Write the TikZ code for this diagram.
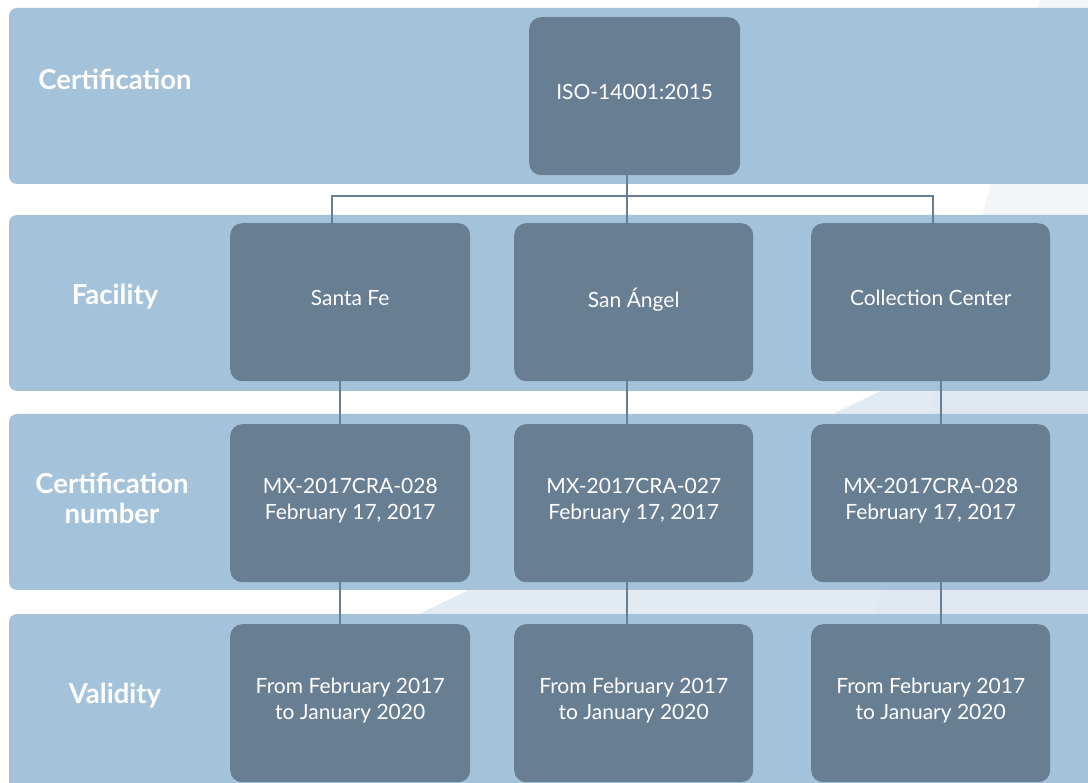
\documentclass[tikz,border=0pt]{standalone}
\usepackage{fontspec}
\setmainfont{Lato}
\definecolor{band}{HTML}{A4C3DA}
\definecolor{boxc}{HTML}{687E92}
\definecolor{shadeA}{HTML}{F3F6F9}
\definecolor{shadeB}{HTML}{DDE7F0}
\begin{document}
\begin{tikzpicture}[x=1pt,y=-1pt,
  bandbox/.style={fill=band,rounded corners=8pt},
  cell/.style={fill=boxc,rounded corners=12pt,minimum width=240pt,minimum height=158pt,
    text=white,align=center,font=\fontsize{21}{26}\selectfont,inner sep=0pt,anchor=north west},
  rowlabel/.style={text=white,align=center,font=\fontsize{27.5}{30}\selectfont\bfseries},
  conn/.style={draw=boxc,line width=2.8pt}]
\useasboundingbox (0,0) rectangle (1088,783);
\clip (0,0) rectangle (1088,783);
% background diagonal shapes
\fill[shadeA] (1040,0) -- (1100,0) -- (1100,790) -- (828,790) -- cycle;
\fill[shadeB,opacity=0.85] (55,790) -- (1100,285) -- (1100,790) -- cycle;
% bands
\fill[bandbox] (9,8) rectangle (1110,184);
\fill[bandbox] (9,215) rectangle (1110,391);
\fill[bandbox] (9,414) rectangle (1110,590);
\fill[bandbox] (9,614) rectangle (1110,800);
% row labels
\node[rowlabel] (l1) at (115,79) {Certification};
\node[rowlabel] (l2) at (115,297) {Facility};
\node[rowlabel] (l3) at (112,498) {Certification\\number};
\node[rowlabel] (l4) at (115,696) {Validity};
% cells
\node[cell,minimum width=211pt] (iso) at (529,17) {ISO-14001:2015\\[-18pt]};
\node[cell] (sf) at (230,223) {Santa Fe\\[-18pt]};
\node[cell,minimum width=239pt] (sa) at (514,223) {San Ángel\\[-18pt]};
\node[cell,minimum width=239pt] (cc) at (811,223) {Collection Center\\[-18pt]};
\node[cell] (n1) at (230,424) {MX-2017CRA-028\\February 17, 2017\\[-18pt]};
\node[cell,minimum width=239pt] (n2) at (514,424) {MX-2017CRA-027\\February 17, 2017\\[-18pt]};
\node[cell,minimum width=239pt] (n3) at (811,424) {MX-2017CRA-028\\February 17, 2017\\[-18pt]};
\node[cell] (v1) at (230,624) {From February 2017\\to January 2020\\[-18pt]};
\node[cell,minimum width=239pt] (v2) at (514,624) {From February 2017\\to January 2020\\[-18pt]};
\node[cell,minimum width=239pt] (v3) at (811,624) {From February 2017\\to January 2020\\[-18pt]};
% connectors
\coordinate (jc) at (627,196);
\coordinate (jl) at (332,196);
\coordinate (jr) at (933,196);
\coordinate (xl) at (340,0);
\coordinate (xc) at (627,0);
\coordinate (xr) at (941,0);
\draw[conn] (iso.south -| jc) -- (jc);
\draw[conn] (sf.north -| jl) -- (jl) -- (jr) -- (cc.north -| jr);
\draw[conn] (jc) -- (sa.north -| jc);
\draw[conn] (sf.south -| xl) -- (n1.north -| xl);
\draw[conn] (sa.south -| xc) -- (n2.north -| xc);
\draw[conn] (cc.south -| xr) -- (n3.north -| xr);
\draw[conn] (n1.south -| xl) -- (v1.north -| xl);
\draw[conn] (n2.south -| xc) -- (v2.north -| xc);
\draw[conn] (n3.south -| xr) -- (v3.north -| xr);
\end{tikzpicture}
\end{document}
